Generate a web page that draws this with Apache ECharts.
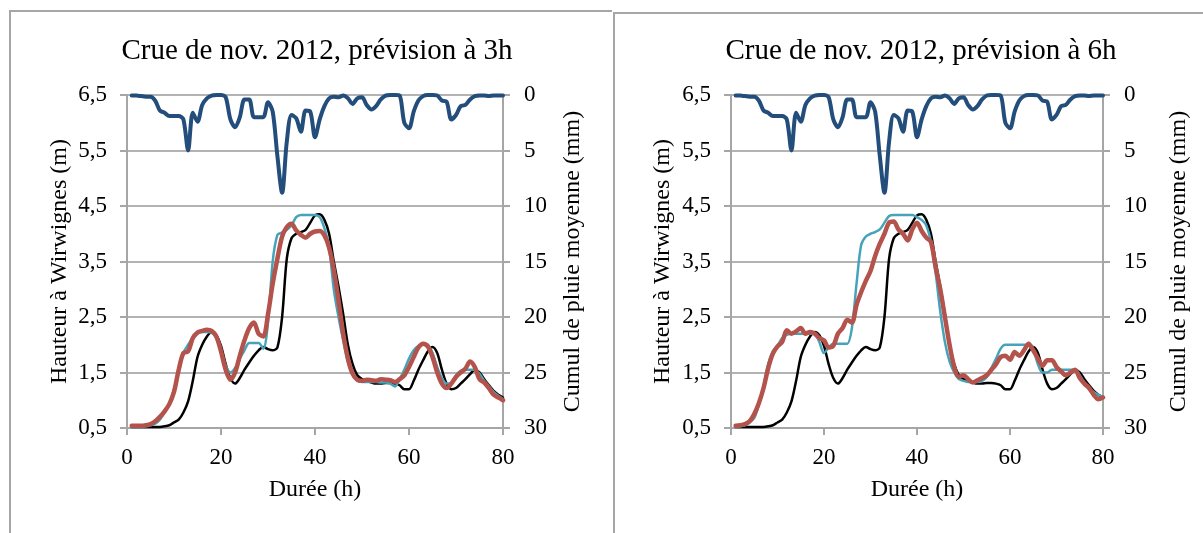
<!DOCTYPE html>
<html>
<head>
<meta charset="utf-8">
<script src="https://cdn.jsdelivr.net/npm/echarts@6/dist/echarts.min.js"></script>
<style>
html,body{margin:0;padding:0;background:#fff;}
#chart{width:1203px;height:533px;}
</style>
</head>
<body>
<div id="chart"></div>
<script>
// ---------- DATA ----------
const titles = ['Crue de nov. 2012, prévision à 3h', 'Crue de nov. 2012, prévision à 6h'];
const xName = 'Durée (h)';
const leftName = 'Hauteur à Wirwignes (m)';
const rightName = 'Cumul de pluie moyenne (mm)';
const levelTicks = [0.5, 1.5, 2.5, 3.5, 4.5, 5.5, 6.5];

const hours = [1,2,3,4,5,6,7,8,9,10,11,12,13,14,15,16,17,18,19,20,
  21,22,23,24,25,26,27,28,29,30,31,32,33,34,35,36,37,38,39,40,
  41,42,43,44,45,46,47,48,49,50,51,52,53,54,55,56,57,58,59,60,
  61,62,63,64,65,66,67,68,69,70,71,72,73,74,75,76,77,78,79,80];

// Rain (mm), right inverted axis
const rain = [0.05,0.05,0.1,0.15,0.15,0.5,1.4,1.6,1.9,1.9,
  1.9,2.2,5.0,1.6,2.4,0.9,0.3,0.05,0,0,
  0.2,2.2,2.9,2.0,0.4,0.4,2.0,2.0,2.0,0.65,
  1.5,5.5,8.8,4.2,1.8,2.1,3.3,1.4,1.5,3.8,
  2.2,1.0,0.3,0.15,0.2,0.05,0.3,0.8,0.3,0.2,
  0.9,1.3,1.0,0.4,0.05,0,0,0.05,2.5,3.0,
  1.5,0.5,0.1,0,0,0.05,0.5,0.6,2.2,1.8,
  1.0,0.9,0.4,0.1,0.05,0.05,0.1,0.05,0.05,0.05];

// Observed level (m), black
const observed = [0.52,0.52,0.52,0.52,0.52,0.52,0.52,0.53,0.55,0.6,
  0.65,0.78,0.98,1.35,1.78,2.0,2.15,2.23,2.17,1.98,
  1.65,1.4,1.3,1.4,1.55,1.68,1.8,1.9,1.96,1.92,
  1.9,1.95,2.5,3.55,3.92,4.0,4.03,4.07,4.2,4.33,
  4.35,4.25,4.0,3.5,3.05,2.55,2.0,1.65,1.45,1.38,
  1.35,1.32,1.3,1.3,1.31,1.31,1.3,1.27,1.2,1.2,
  1.35,1.55,1.72,1.88,1.96,1.85,1.55,1.3,1.2,1.22,
  1.3,1.38,1.47,1.55,1.5,1.38,1.27,1.17,1.1,1.05];

// Panel 1 (3h): cyan and red
const sim3h = [0.52,0.52,0.52,0.53,0.55,0.58,0.65,0.78,0.93,1.2,
  1.5,1.85,2.0,2.12,2.2,2.23,2.23,2.22,2.12,1.9,
  1.62,1.5,1.58,1.75,1.9,2.03,2.03,2.03,1.93,2.4,
  3.5,3.98,4.02,4.07,4.15,4.3,4.34,4.34,4.34,4.34,
  4.3,4.1,3.75,3.0,2.5,2.08,1.7,1.45,1.35,1.33,
  1.33,1.33,1.33,1.32,1.32,1.3,1.25,1.38,1.55,1.75,
  1.9,1.98,2.02,2.0,1.85,1.6,1.4,1.3,1.3,1.45,
  1.53,1.55,1.55,1.55,1.48,1.35,1.25,1.15,1.08,1.02];
const fc3h = [0.54,0.54,0.54,0.55,0.57,0.62,0.7,0.8,0.93,1.15,
  1.55,1.85,1.88,2.12,2.22,2.25,2.27,2.25,2.15,1.88,
  1.55,1.37,1.5,1.8,2.08,2.3,2.4,2.2,2.15,2.55,
  3.1,3.55,3.95,4.12,4.18,4.06,3.98,3.93,4.0,4.04,
  4.05,3.97,3.75,3.35,2.8,2.2,1.75,1.48,1.37,1.35,
  1.37,1.36,1.35,1.38,1.37,1.36,1.33,1.38,1.45,1.6,
  1.78,1.95,2.02,1.97,1.78,1.5,1.3,1.22,1.3,1.42,
  1.5,1.57,1.7,1.6,1.38,1.32,1.22,1.1,1.05,1.0];

// Panel 2 (6h): cyan and red
const sim6h = [0.52,0.53,0.55,0.6,0.68,0.92,1.25,1.65,1.88,1.98,
  2.12,2.18,2.2,2.2,2.2,2.2,2.2,2.2,2.05,1.85,
  1.95,2.02,2.02,2.02,2.02,2.3,3.1,3.8,3.95,4.0,
  4.03,4.08,4.2,4.32,4.34,4.34,4.34,4.34,4.34,4.3,
  4.25,4.15,3.85,3.3,2.6,2.05,1.7,1.5,1.38,1.35,
  1.33,1.33,1.33,1.35,1.42,1.58,1.75,1.93,2.0,2.0,
  2.0,2.0,2.0,2.0,1.92,1.65,1.5,1.5,1.55,1.55,
  1.55,1.55,1.55,1.55,1.45,1.32,1.22,1.15,1.1,1.06];
const fc6h = [0.54,0.55,0.57,0.62,0.75,0.95,1.22,1.58,1.84,1.97,
  2.05,2.26,2.2,2.24,2.3,2.2,2.23,2.2,2.12,2.08,
  1.95,1.98,2.2,2.3,2.45,2.4,2.72,2.95,3.15,3.33,
  3.6,3.82,4.0,4.2,4.22,4.08,4.0,3.88,4.08,4.2,
  4.05,3.93,3.85,3.4,3.0,2.5,2.0,1.6,1.42,1.45,
  1.38,1.32,1.36,1.4,1.45,1.55,1.65,1.78,1.8,1.73,
  1.87,1.8,1.9,2.02,1.9,1.75,1.62,1.72,1.72,1.6,
  1.52,1.45,1.5,1.55,1.4,1.3,1.22,1.1,1.02,1.05];

// ---------- CHART ----------
const FONT = '"Liberation Serif", "Times New Roman", serif';
const GRAY = '#a6a6a6';
const pair = arr => hours.map((h, i) => [h, arr[i]]);
const comma = v => String(v).replace('.', ',');

const grids = [
  {left: 127, top: 95, width: 376, height: 333},
  {left: 731, top: 95, width: 372, height: 333}
];

function xAx(gi) {
  return {
    type: 'value', gridIndex: gi, min: 0, max: 80, interval: 20,
    name: xName, nameLocation: 'middle', nameGap: 50,
    nameTextStyle: {fontFamily: FONT, fontSize: 24, color: '#000'},
    axisLine: {show: true, onZero: false, lineStyle: {color: GRAY, width: 2}},
    axisTick: {show: true, inside: false, length: 7, lineStyle: {color: GRAY, width: 2}},
    axisLabel: {fontFamily: FONT, fontSize: 23, color: '#000', margin: 18},
    splitLine: {show: false}
  };
}
function yLeft(gi, gap) {
  return {
    type: 'value', gridIndex: gi, position: 'left', min: 0.5, max: 6.5,
    name: leftName, nameLocation: 'middle', nameRotate: 90, nameGap: gap,
    nameTextStyle: {fontFamily: FONT, fontSize: 24, color: '#000'},
    axisLine: {show: true, lineStyle: {color: GRAY, width: 2}},
    axisTick: {show: true, length: 7, customValues: levelTicks, lineStyle: {color: GRAY, width: 2}},
    axisLabel: {fontFamily: FONT, fontSize: 23, color: '#000', margin: 20,
      customValues: levelTicks, formatter: v => comma(v)},
    splitLine: {show: false}
  };
}
function yRight(gi, gap) {
  return {
    type: 'value', gridIndex: gi, position: 'right', min: 0, max: 30, interval: 5, inverse: true,
    name: rightName, nameLocation: 'middle', nameRotate: 90, nameGap: gap,
    nameTextStyle: {fontFamily: FONT, fontSize: 24, color: '#000'},
    axisLine: {show: true, lineStyle: {color: GRAY, width: 2}},
    axisTick: {show: true, length: 7, lineStyle: {color: GRAY, width: 2}},
    axisLabel: {fontFamily: FONT, fontSize: 23, color: '#000', margin: 21},
    splitLine: {show: true, lineStyle: {color: '#b3b3b3', width: 2}}
  };
}
function line(name, data, xi, yi, color, width, z) {
  return {
    name, type: 'line', xAxisIndex: xi, yAxisIndex: yi, data: pair(data),
    showSymbol: false, symbol: 'none', smooth: 0.3, z,
    lineStyle: {color, width, cap: 'round', join: 'round'},
    emphasis: {disabled: true}
  };
}

const BLUE = '#234d7b', BLACK = '#000000', CYAN = '#46a3b9', RED = '#b4534c';

const option = {
  backgroundColor: '#ffffff',
  animation: false,
  title: [
    {text: titles[0], left: 312, top: 32, textAlign: 'center',
      textStyle: {fontFamily: FONT, fontSize: 29, fontWeight: 'normal', color: '#000'}},
    {text: titles[1], left: 916, top: 32, textAlign: 'center',
      textStyle: {fontFamily: FONT, fontSize: 29, fontWeight: 'normal', color: '#000'}}
  ],
  grid: grids,
  xAxis: [xAx(0), xAx(1)],
  yAxis: [yLeft(0, 55), yRight(0, 58), yLeft(1, 56), yRight(1, 64)],
  series: [
    line('Observé', observed, 0, 0, BLACK, 2.5, 2),
    line('Simulé 3h', sim3h, 0, 0, CYAN, 2.5, 3),
    line('Prévision 3h', fc3h, 0, 0, RED, 4.5, 4),
    line('Pluie', rain, 0, 1, BLUE, 4, 5),
    line('Observé', observed, 1, 2, BLACK, 2.5, 2),
    line('Simulé 6h', sim6h, 1, 2, CYAN, 2.5, 3),
    line('Prévision 6h', fc6h, 1, 2, RED, 4.5, 4),
    line('Pluie', rain, 1, 3, BLUE, 4, 5)
  ],
  graphic: [
    {type: 'polyline', shape: {points: [[10, 533], [10, 11], [612, 11]]},
      style: {stroke: GRAY, lineWidth: 2, fill: null}, silent: true},
    {type: 'polyline', shape: {points: [[614, 533], [614, 13], [1203, 13]]},
      style: {stroke: GRAY, lineWidth: 2, fill: null}, silent: true}
  ]
};

const chart = echarts.init(document.getElementById('chart'), null, {renderer: 'canvas'});
chart.setOption(option);
</script>
</body>
</html>
